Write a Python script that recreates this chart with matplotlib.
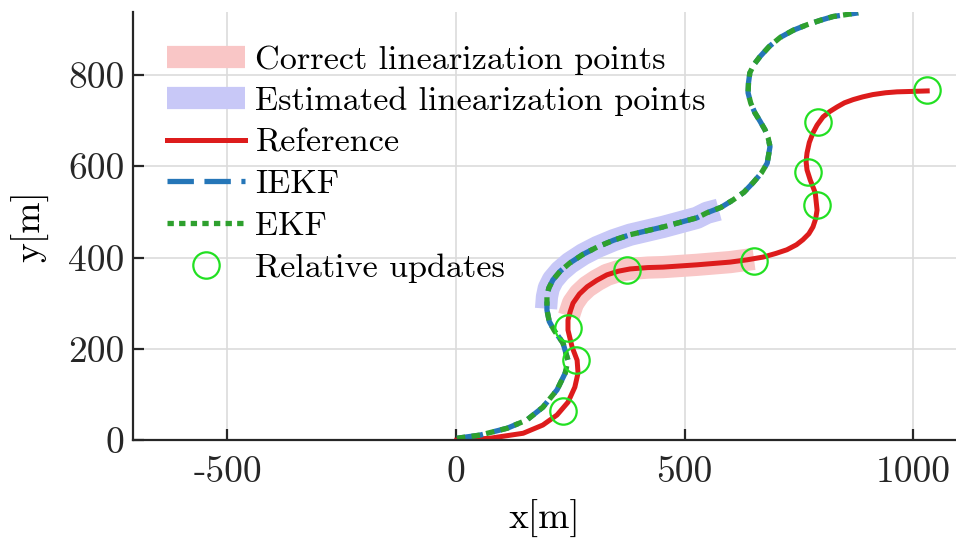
import matplotlib
matplotlib.use("Agg")
import matplotlib.pyplot as plt
from matplotlib.lines import Line2D

# reference trajectory [m]
ref_x = [2, 74, 147, 190, 221, 245, 260, 267, 265, 254, 245, 245, 250, 256, 270, 287, 308,
         330, 355, 381, 420, 453, 527, 600, 637, 672, 700, 724, 745, 759, 772, 781, 787, 790,
         786, 775, 768, 766, 768, 773, 781, 790, 803, 818, 834, 850, 869, 890, 912, 940, 965,
         1000, 1031]
ref_y = [0, 4, 15, 33, 55, 83, 116, 147, 175, 204, 241, 263, 282, 300, 320, 336, 350,
         362, 370, 375, 378, 379, 384, 390, 395, 401, 409, 417, 428, 439, 452, 467, 485, 504,
         542, 570, 592, 610, 629, 652, 673, 690, 708, 720, 730, 739, 746, 752, 757, 761, 763,
         764, 765]

# IEKF / EKF estimate [m]
est_x = [2, 53, 112, 155, 190, 221, 239, 245, 234, 215, 204, 199, 199, 203, 212, 228, 249,
         278, 309, 345, 381, 453, 527, 549, 580, 606, 630, 650, 668, 681, 687, 683, 676, 665,
         654, 645, 639, 640, 643, 652, 665, 685, 709, 738, 768, 798, 825, 852, 880]
est_y = [4, 11, 26, 44, 72, 110, 147, 175, 213, 240, 260, 285, 314, 333, 351, 370, 388,
         407, 423, 438, 450, 467, 487, 498, 510, 526, 543, 564, 585, 607, 643, 662, 680, 699,
         717, 738, 761, 783, 805, 823, 840, 862, 882, 898, 910, 920, 928, 932, 936]

# linearization points
corr_x = [247, 250, 256, 270, 287, 308, 330, 355, 381, 420, 453, 527, 600, 637, 652]
corr_y = [272, 282, 300, 320, 336, 350, 362, 370, 375, 378, 379, 384, 390, 395, 397]
estl_x = [197, 199, 203, 212, 228, 249, 278, 309, 345, 381, 453, 527, 549, 575]
estl_y = [288, 314, 333, 351, 370, 388, 407, 423, 438, 450, 467, 487, 498, 505]

# relative updates
upd_x = [234, 263, 245, 374, 652, 790, 770, 792, 1031]
upd_y = [64, 175, 246, 373, 393, 515, 588, 697, 768]

plt.rcParams['font.family'] = ['cmr10', 'DejaVu Serif']
plt.rcParams['axes.unicode_minus'] = False
plt.rcParams['font.size'] = 27

pink = '#f9c6c6'
lav = '#c8c8f7'
red = '#dd1c1c'
blue = '#2576b8'
green = '#2ea02e'
lime = '#22e022'

fig = plt.figure(figsize=(9.56, 5.44), dpi=100)
ax = fig.add_axes([0.139, 0.191, 0.861, 0.787])

ax.plot(corr_x, corr_y, color=pink, lw=16, solid_capstyle='butt', solid_joinstyle='round')
ax.plot(estl_x, estl_y, color=lav, lw=16, solid_capstyle='butt', solid_joinstyle='round')
ax.plot(ref_x, ref_y, color=red, lw=3.6, solid_joinstyle='round')
ax.plot(est_x, est_y, color=blue, lw=3.8, dashes=(5, 2))
ax.plot(est_x, est_y, color=green, lw=3.8, dashes=(1.6, 1.2))
ax.plot(upd_x, upd_y, 'o', mfc='none', mec=lime, ms=19, mew=1.6)

ax.set_xlim(-707, 1094)
ax.set_ylim(0, 938)
ax.set_xticks([-500, 0, 500, 1000])
ax.set_yticks([0, 200, 400, 600, 800])
ax.grid(True, color='#dcdcdc', lw=1.2)
ax.set_axisbelow(True)
ax.spines['top'].set_visible(False)
ax.spines['right'].set_visible(False)
for s in ('left', 'bottom'):
    ax.spines[s].set_linewidth(1.6)
    ax.spines[s].set_color('#262626')
ax.tick_params(direction='in', length=8, width=1.6, colors='#262626', labelcolor='#262626')
ax.tick_params(axis='x', pad=11)
ax.tick_params(axis='y', pad=6)
ax.set_xlabel('x[m]', labelpad=8)
ax.set_ylabel('y[m]', labelpad=14)

handles = [
    Line2D([], [], color=pink, lw=16, solid_capstyle='butt'),
    Line2D([], [], color=lav, lw=16, solid_capstyle='butt'),
    Line2D([], [], color=red, lw=3.6),
    Line2D([], [], color=blue, lw=3.8, dashes=(5, 2)),
    Line2D([], [], color=green, lw=3.8, dashes=(1.2, 1.0)),
    Line2D([], [], ls='none', marker='o', mfc='none', mec=lime, ms=19, mew=1.6),
]
labels = ['Correct linearization points', 'Estimated linearization points', 'Reference',
          'IEKF', 'EKF', 'Relative updates']
ax.legend(handles, labels, loc='upper left', bbox_to_anchor=(0.041, 0.923), frameon=False,
          handlelength=2.3, handletextpad=0.3, labelspacing=0.34, borderaxespad=0,
          borderpad=0, fontsize=24.6)

fig.savefig('out.png', dpi=100)
